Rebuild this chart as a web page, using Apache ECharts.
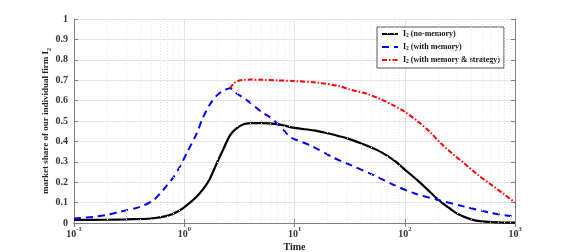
<!DOCTYPE html>
<html><head><meta charset="utf-8">
<script src="https://cdn.jsdelivr.net/npm/echarts@6/dist/echarts.min.js"></script>
<style>html,body{margin:0;padding:0;background:#fff}#c{width:570px;height:252px}</style>
</head><body><div id="c"></div>
<script>
const seriesNames = ['I2 (no-memory)', 'I2 (with memory)', 'I2 (with memory & strategy)'];
const tNoMem = [0.1,0.2,0.3,0.5,0.7,0.9,1.1,1.3,1.5,1.7,2.0,2.3,2.6,3.0,3.5,4.2,5,7,10,15,20,30,45,60,80,100,130,160,200,250,300,400,500,700,1000];
const vNoMem = [0.015,0.016,0.018,0.022,0.035,0.06,0.095,0.13,0.17,0.215,0.30,0.37,0.43,0.465,0.485,0.49,0.49,0.485,0.466,0.454,0.44,0.415,0.38,0.35,0.307,0.262,0.21,0.165,0.115,0.075,0.045,0.018,0.008,0.003,0.002];
const tMem = [0.1,0.15,0.2,0.26,0.4,0.52,0.64,0.8,0.92,1.07,1.3,1.46,1.7,2.0,2.3,2.6,3.0,3.74,5,6.3,8,9.2,14,22.6,32,52,80,120,200,350,600,1000];
const vMem = [0.022,0.03,0.04,0.055,0.08,0.11,0.16,0.225,0.28,0.35,0.44,0.51,0.58,0.628,0.65,0.66,0.635,0.6,0.545,0.51,0.455,0.42,0.38,0.32,0.285,0.235,0.186,0.147,0.113,0.08,0.05,0.03];
const tStrat = [2.6,2.75,2.9,3.1,3.4,4.0,5,7,10,16,25,32,45,60,80,100,130,170,213,270,350,450,600,800,1000];
const vStrat = [0.66,0.678,0.69,0.697,0.701,0.703,0.702,0.699,0.696,0.688,0.672,0.654,0.634,0.608,0.575,0.545,0.5,0.445,0.39,0.34,0.29,0.24,0.19,0.14,0.10];
const yTicks = ['0','0.1','0.2','0.3','0.4','0.5','0.6','0.7','0.8','0.9','1'];
const xDecades = [0.1,1,10,100,1000];
const xExponents = ['-1','0','1','2','3'];

const FONT = "'Liberation Serif','DejaVu Serif',serif";
const minorGrid = [];
for (let d = 0; d < xDecades.length - 1; d++) for (let k = 2; k <= 9; k++) minorGrid.push(xDecades[d] * k);

const zip = (a, b) => a.map((t, i) => [t, b[i]]);
function sub(name){ return '{m|I}{s|2}{m|' + name.slice(2) + '}'; }

const chart = echarts.init(document.getElementById('c'), null, {renderer:'canvas'});
const baseX = {
  type:'log', logBase:10, min:0.1, max:1000,
  axisLine:{show:true, lineStyle:{color:'#808080', width:1}},
  axisTick:{show:true, inside:true, length:4, lineStyle:{color:'#808080'}},
  minorTick:{show:false},
};
chart.setOption({
  animation:false,
  backgroundColor:'#fff',
  grid:{left:74, right:55, top:19, bottom:29, containLabel:false, outerBoundsMode:'none'},
  legend:{
    orient:'vertical', left:377, top:27, itemWidth:16, itemHeight:8, itemGap:4,
    padding:[3,4,3,4], borderColor:'#555', borderWidth:1, backgroundColor:'#fff',
    data: seriesNames.map(n=>({name:n, itemStyle:{opacity:0}})),
    formatter: sub,
    textStyle:{fontFamily:FONT, fontWeight:'bold', fontSize:8, color:'#111',
      rich:{m:{fontFamily:FONT, fontWeight:'bold', fontSize:8, lineHeight:10, verticalAlign:'middle', color:'#111'},
            s:{fontFamily:FONT, fontWeight:'bold', fontSize:5.5, lineHeight:5, verticalAlign:'bottom', color:'#111'}}}
  },
  xAxis:[
    Object.assign({}, baseX, {
      position:'bottom', name:'Time', nameLocation:'middle', nameGap:19, nameMoveOverlap:false,
      nameTextStyle:{fontFamily:FONT, fontWeight:'bold', fontSize:10, color:'#222'},
      splitLine:{show:true, lineStyle:{color:'#e4e4e4', width:1}},
      axisLabel:{margin:3, formatter:(v)=>{ const i = xDecades.findIndex(d=>Math.abs(Math.log10(d)-Math.log10(v))<1e-6); return i<0?'':'{b|10}{e|'+xExponents[i]+'}'; },
        rich:{b:{fontFamily:FONT, fontWeight:'bold', fontSize:10, color:'#333', lineHeight:13, verticalAlign:'bottom'},
              e:{fontFamily:FONT, fontWeight:'bold', fontSize:6.5, color:'#333', lineHeight:7, verticalAlign:'top'}}}
    }),
    Object.assign({}, baseX, {position:'top', axisLabel:{show:false}, splitLine:{show:false}})
  ],
  yAxis:[
    {type:'value', min:0, max:1, interval:0.1, position:'left',
     name:'{m|market share of our individual firm I}{s|2}', nameLocation:'middle', nameGap:22, nameRotate:90, nameMoveOverlap:false,
     nameTextStyle:{rich:{m:{fontFamily:FONT, fontWeight:'bold', fontSize:9, color:'#222', lineHeight:12, verticalAlign:'middle'},
                          s:{fontFamily:FONT, fontWeight:'bold', fontSize:6, color:'#222', lineHeight:6, verticalAlign:'bottom'}}},
     axisLine:{show:true, lineStyle:{color:'#808080'}},
     axisTick:{show:true, inside:true, length:4, lineStyle:{color:'#808080'}},
     axisLabel:{margin:6, fontFamily:FONT, fontWeight:'bold', fontSize:10, color:'#333', formatter:(v)=>yTicks[Math.round(v*10)]},
     splitLine:{show:true, lineStyle:{color:'#e4e4e4', width:1}}},
    {type:'value', min:0, max:1, interval:0.1, position:'right',
     axisLine:{show:true, lineStyle:{color:'#808080'}},
     axisTick:{show:true, inside:true, length:4, lineStyle:{color:'#808080'}},
     axisLabel:{show:false}, splitLine:{show:false}}
  ],
  series:[
    {name:seriesNames[0], type:'line', data:zip(tNoMem, vNoMem), smooth:0.3, showSymbol:false, symbol:'none',
     lineStyle:{color:'#000', width:2.2}, itemStyle:{color:'#000'}, z:3,
     markLine:{silent:true, symbol:'none', label:{show:false}, animation:false,
       lineStyle:{color:'#e6e6e6', type:[1,2], width:1}, data:minorGrid.map(v=>({xAxis:v}))}},
    {name:seriesNames[1], type:'line', data:zip(tMem, vMem), smooth:0.3, showSymbol:false, symbol:'none',
     lineStyle:{color:'#0000ff', width:2, type:[7,5]}, itemStyle:{color:'#0000ff'}, z:4},
    {name:seriesNames[2], type:'line', data:zip(tStrat, vStrat), smooth:0.3, showSymbol:false, symbol:'none',
     lineStyle:{color:'#ff0000', width:2, type:[5,2,1.5,2]}, itemStyle:{color:'#ff0000'}, z:5}
  ]
});
</script></body></html>
